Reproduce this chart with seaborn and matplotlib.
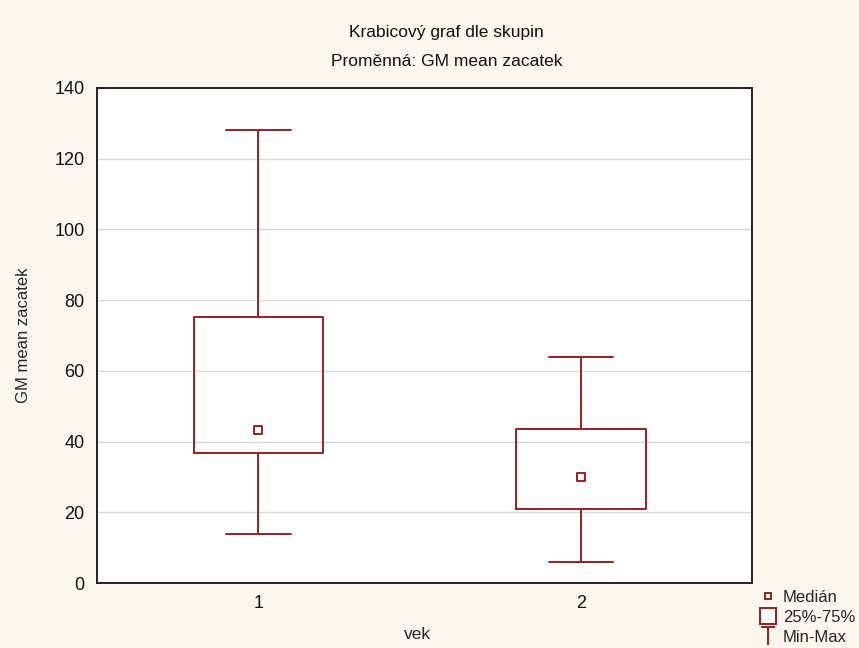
import numpy as np
import pandas as pd
import matplotlib
matplotlib.use("Agg")
import matplotlib.pyplot as plt
from matplotlib.lines import Line2D
from matplotlib.path import Path
import seaborn as sns

# Summary statistics per age group
groups = ["1", "2"]
minimum = [14.0, 6.0]
q1 = [36.8, 21.0]
median = [43.2, 30.0]
q3 = [75.2, 43.5]
maximum = [128.0, 64.0]

# Five-number samples: with linear quantiles these reproduce min, Q1, median, Q3, max
rows = []
for g, a, b, c, d, e in zip(groups, minimum, q1, median, q3, maximum):
    for v in (a, b, c, d, e):
        rows.append({"vek": g, "GM mean zacatek": v})
df = pd.DataFrame(rows)
med_df = pd.DataFrame({"vek": groups, "GM mean zacatek": median})

sns.set_style("white")
plt.rcParams["font.family"] = ["Liberation Sans", "DejaVu Sans"]

RED = "#9a1f1f"
BG = "#fdf8ee"

fig = plt.figure(figsize=(8.59, 6.48), dpi=100, facecolor=BG)
ax = fig.add_axes([97 / 859, 65 / 648, 655 / 859, 495 / 648])
ax.set_facecolor("white")

sns.boxplot(
    data=df, x="vek", y="GM mean zacatek", ax=ax,
    whis=(0, 100), width=0.40, fill=False, color=RED, linewidth=1.4,
    medianprops={"visible": False}, showfliers=False,
)
sns.stripplot(
    data=med_df, x="vek", y="GM mean zacatek", ax=ax,
    jitter=False, marker="s", size=5.5, color="white",
    edgecolor=RED, linewidth=1.4, zorder=5,
)

ax.set_ylim(0, 140)
ax.set_xlim(-0.50, 1.53)
ax.set_yticks(np.arange(0, 141, 20))
ax.yaxis.grid(True, color="#d9d9d9", linewidth=1.0)
ax.set_axisbelow(True)
for s in ax.spines.values():
    s.set_color("#222222")
    s.set_linewidth(1.4)
ax.tick_params(axis="both", direction="out", length=3, width=1, color="#222222",
               labelsize=13, labelcolor="#111111", pad=6)
ax.set_xlabel("vek", fontsize=12.5)
ax.set_ylabel("GM mean zacatek", fontsize=12)
ax.yaxis.set_label_coords(-0.100, 0.5)
ax.xaxis.set_label_coords(0.49, -0.088)

fig.text(446 / 859, 1 - 33 / 648, "Krabicový graf dle skupin", ha="center", va="center",
         fontsize=12.5, color="#111111")
fig.text(447 / 859, 1 - 62 / 648, "Proměnná: GM mean zacatek", ha="center", va="center",
         fontsize=12.5, color="#111111")

# Legend with a T-shaped min-max glyph
t_path = Path([(-0.8, 1), (0.8, 1), (0, 1), (0, -1)],
              [Path.MOVETO, Path.LINETO, Path.MOVETO, Path.LINETO])
handles = [
    Line2D([], [], linestyle="none", marker="s", markersize=5, markerfacecolor="white",
           markeredgecolor=RED, markeredgewidth=1.4),
    Line2D([], [], linestyle="none", marker="s", markersize=12, markerfacecolor="white",
           markeredgecolor=RED, markeredgewidth=1.4),
    Line2D([], [], linestyle="none", marker=t_path, markersize=13, markerfacecolor="none",
           markeredgecolor=RED, markeredgewidth=1.4),
]
fig.legend(handles, ["Medián", "25%-75%", "Min-Max"], loc="upper left",
           bbox_to_anchor=(746 / 859, 1 - 578 / 648), frameon=False, fontsize=12,
           handlelength=1.2, handletextpad=0.3, labelspacing=0.32, borderpad=0.2)

fig.savefig("out.png", dpi=100, facecolor=BG)
